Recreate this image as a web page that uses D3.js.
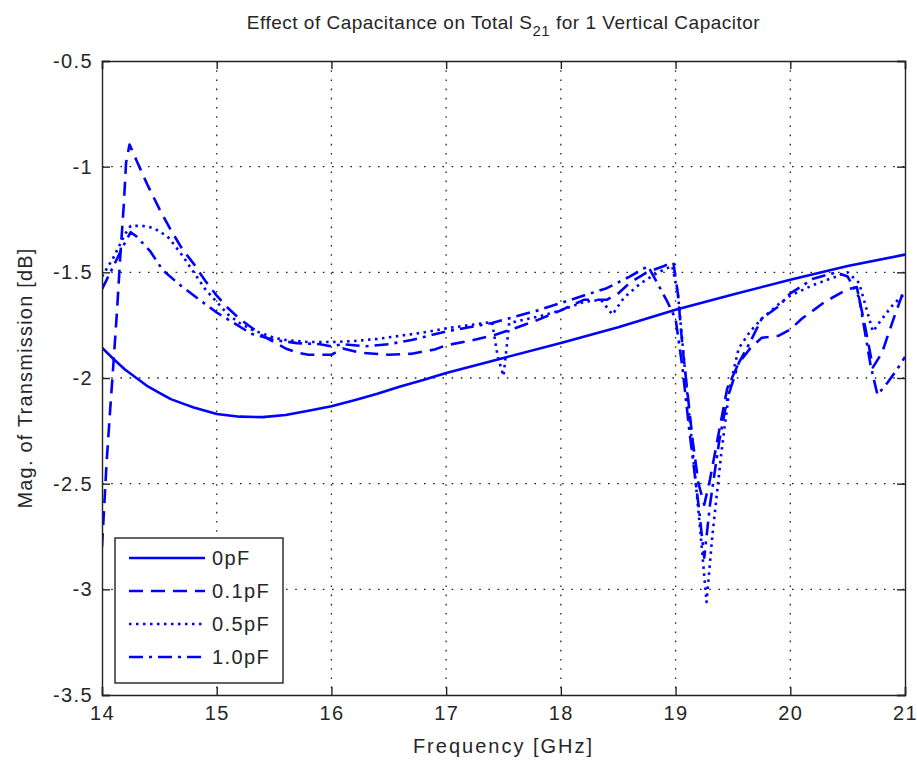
<!DOCTYPE html>
<html>
<head>
<meta charset="utf-8">
<script src="https://cdn.jsdelivr.net/npm/d3@7"></script>
<style>
  html, body { margin: 0; padding: 0; background: #fff; }
  svg { display: block; }
  text { font-family: "Liberation Sans", Arial, sans-serif; fill: #262626; }
</style>
</head>
<body>
<script>
// Tick values
const xTicks = [14, 15, 16, 17, 18, 19, 20, 21];
const yTicks = [-0.5, -1, -1.5, -2, -2.5, -3, -3.5];

// 0 pF (no capacitor)
const freq0 = [14.0, 14.1, 14.2, 14.3, 14.4, 14.5, 14.6, 14.7, 14.8, 14.9, 15.0, 15.2, 15.4, 15.6, 15.8, 16.0, 16.2, 16.4, 16.6, 16.8, 17.0, 17.5, 18.0, 18.5, 19.0, 19.5, 20.0, 20.5, 21.0];
const mag0 = [-1.857, -1.91, -1.96, -2.0, -2.04, -2.07, -2.10, -2.12, -2.14, -2.155, -2.17, -2.183, -2.185, -2.175, -2.155, -2.134, -2.105, -2.075, -2.04, -2.01, -1.976, -1.905, -1.834, -1.76, -1.677, -1.605, -1.535, -1.47, -1.416];

// 0.1 pF
const freq01 = [14.0, 14.04, 14.07, 14.10, 14.13, 14.16, 14.19, 14.21, 14.24, 14.3, 14.4, 14.5, 14.6, 14.7, 14.8, 14.9, 15.0, 15.1, 15.2, 15.3, 15.4, 15.5, 15.6, 15.7, 15.8, 16.0, 16.1, 16.25, 16.5, 16.7, 16.9, 17.0, 17.2, 17.4, 17.6, 17.8, 18.0, 18.2, 18.4, 18.5, 18.6, 18.75, 18.9, 18.98, 19.02, 19.06, 19.1, 19.15, 19.2, 19.25, 19.3, 19.38, 19.45, 19.55, 19.65, 19.75, 19.9, 20.0, 20.1, 20.3, 20.5, 20.58, 20.65, 20.72, 20.8, 20.9, 21.0];
const mag01 = [-2.80, -2.40, -2.16, -1.93, -1.69, -1.42, -1.18, -0.98, -0.895, -0.97, -1.09, -1.20, -1.30, -1.39, -1.46, -1.54, -1.61, -1.67, -1.72, -1.76, -1.80, -1.83, -1.86, -1.88, -1.89, -1.89, -1.86, -1.88, -1.89, -1.885, -1.865, -1.845, -1.825, -1.80, -1.765, -1.725, -1.68, -1.63, -1.63, -1.60, -1.55, -1.50, -1.47, -1.45, -1.60, -1.85, -2.05, -2.30, -2.50, -2.60, -2.48, -2.25, -2.05, -1.93, -1.86, -1.81, -1.80, -1.77, -1.72, -1.64, -1.58, -1.57, -1.75, -1.95, -1.88, -1.72, -1.57];

// 0.5 pF
const freq05 = [14.0, 14.1, 14.2, 14.25, 14.35, 14.45, 14.57, 14.63, 14.7, 14.8, 14.9, 15.0, 15.1, 15.2, 15.3, 15.4, 15.5, 15.6, 15.8, 16.0, 16.2, 16.4, 16.6, 16.8, 17.0, 17.2, 17.4, 17.45, 17.5, 17.55, 17.8, 18.0, 18.2, 18.35, 18.45, 18.55, 18.7, 18.85, 18.97, 19.02, 19.08, 19.15, 19.22, 19.27, 19.32, 19.4, 19.47, 19.55, 19.65, 19.75, 19.9, 20.0, 20.2, 20.4, 20.5, 20.6, 20.72, 20.8, 20.9, 21.0];
const mag05 = [-1.52, -1.43, -1.32, -1.28, -1.28, -1.29, -1.33, -1.37, -1.42, -1.50, -1.58, -1.64, -1.70, -1.74, -1.77, -1.79, -1.81, -1.82, -1.83, -1.83, -1.825, -1.815, -1.80, -1.785, -1.765, -1.75, -1.735, -1.90, -1.99, -1.74, -1.71, -1.68, -1.64, -1.63, -1.70, -1.62, -1.55, -1.50, -1.47, -1.60, -1.95, -2.35, -2.75, -3.06, -2.75, -2.35, -2.05, -1.86, -1.78, -1.72, -1.65, -1.61, -1.56, -1.52, -1.50, -1.55, -1.78, -1.72, -1.65, -1.60];

// 1.0 pF
const freq10 = [14.0, 14.1, 14.2, 14.25, 14.3, 14.42, 14.53, 14.68, 14.85, 15.0, 15.15, 15.3, 15.5, 15.7, 15.9, 16.0, 16.1, 16.3, 16.5, 16.7, 17.0, 17.2, 17.4, 17.6, 17.8, 18.0, 18.2, 18.4, 18.6, 18.76, 18.85, 18.92, 19.0, 19.06, 19.12, 19.2, 19.25, 19.3, 19.38, 19.45, 19.55, 19.65, 19.75, 19.9, 20.0, 20.2, 20.4, 20.5, 20.6, 20.7, 20.76, 20.85, 20.93, 21.0];
const mag10 = [-1.58, -1.47, -1.36, -1.31, -1.33, -1.40, -1.49, -1.56, -1.63, -1.69, -1.74, -1.79, -1.82, -1.835, -1.84, -1.85, -1.84, -1.85, -1.84, -1.82, -1.78, -1.76, -1.74, -1.71, -1.68, -1.645, -1.61, -1.575, -1.52, -1.47, -1.56, -1.63, -1.72, -1.95, -2.25, -2.60, -2.85, -2.60, -2.30, -2.10, -1.93, -1.83, -1.72, -1.66, -1.60, -1.53, -1.50, -1.52, -1.62, -1.94, -2.08, -2.02, -1.96, -1.90];

const seriesNames = ["0pF", "0.1pF", "0.5pF", "1.0pF"];
const seriesFreq = [freq0, freq01, freq05, freq10];
const seriesMag = [mag0, mag01, mag05, mag10];
const dashes = [null, "14,8", "2.5,4.5", "14,6,3,6"];

const W = 917, H = 763;
const margin = { top: 61, right: 12, bottom: 68, left: 102 };
const iw = W - margin.left - margin.right;
const ih = H - margin.top - margin.bottom;

const svg = d3.select("body").append("svg").attr("width", W).attr("height", H);
const g = svg.append("g").attr("transform", `translate(${margin.left},${margin.top})`);

const x = d3.scaleLinear().domain([14, 21]).range([0, iw]);
const y = d3.scaleLinear().domain([-3.5, -0.5]).range([ih, 0]);

// Dotted grid
const grid = g.append("g").attr("stroke", "#222").attr("stroke-width", 1.3).attr("stroke-dasharray", "1.6,7.6");
grid.selectAll(".gx").data(xTicks.slice(1, -1)).join("line")
  .attr("x1", d => x(d)).attr("x2", d => x(d)).attr("y1", 0).attr("y2", ih);
grid.selectAll(".gy").data(yTicks.slice(1, -1)).join("line")
  .attr("y1", d => y(d)).attr("y2", d => y(d)).attr("x1", 0).attr("x2", iw);

// Series lines
const line = d3.line().x(d => x(d[0])).y(d => y(d[1]));
svg.append("defs").append("clipPath").attr("id", "plotclip")
  .append("rect").attr("width", iw).attr("height", ih);
const lines = g.append("g").attr("clip-path", "url(#plotclip)");
seriesNames.forEach((name, i) => {
  const pts = seriesFreq[i].map((f, k) => [f, seriesMag[i][k]]);
  lines.append("path").datum(pts)
    .attr("fill", "none").attr("stroke", "#0000ff").attr("stroke-width", 2.6)
    .attr("stroke-linejoin", "round")
    .attr("stroke-dasharray", dashes[i])
    .attr("d", line);
});

// Axes with inward ticks on all four sides
const axB = g.append("g").attr("transform", `translate(0,${ih})`)
  .call(d3.axisBottom(x).tickValues(xTicks).tickSize(-8).tickPadding(11).tickFormat(d3.format("d")));
const axT = g.append("g")
  .call(d3.axisTop(x).tickValues(xTicks).tickSize(-8).tickFormat(""));
const axL = g.append("g")
  .call(d3.axisLeft(y).tickValues(yTicks).tickSize(-8).tickPadding(9).tickFormat(d => String(d)));
const axR = g.append("g").attr("transform", `translate(${iw},0)`)
  .call(d3.axisRight(y).tickValues(yTicks).tickSize(-8).tickFormat(""));
[axB, axT, axL, axR].forEach(a => {
  a.select(".domain").attr("stroke", "#222").attr("stroke-width", 1.4);
  a.selectAll(".tick line").attr("stroke", "#222").attr("stroke-width", 1.4);
  a.selectAll("text").attr("font-size", 20).attr("fill", "#262626")
    .style("letter-spacing", "1.4px")
    .style("font-family", '"Liberation Sans", Arial, sans-serif');
});

// Title with subscript
const title = svg.append("text").attr("x", margin.left + iw / 2).attr("y", 29)
  .attr("text-anchor", "middle").attr("font-size", 19).style("letter-spacing", "0.5px");
title.append("tspan").text("Effect of Capacitance on Total S");
title.append("tspan").attr("dy", 7).attr("font-size", 15).text("21");
title.append("tspan").attr("dy", -7).text(" for 1 Vertical Capacitor");

// Axis labels
svg.append("text").attr("x", margin.left + iw / 2).attr("y", 753)
  .attr("text-anchor", "middle").attr("font-size", 20).style("letter-spacing", "2px")
  .text("Frequency [GHz]");
svg.append("text").attr("transform", `translate(32,${margin.top + ih / 2}) rotate(-90)`)
  .attr("text-anchor", "middle").attr("font-size", 20).style("letter-spacing", "1.2px")
  .text("Mag. of Transmission [dB]");

// Legend
const lg = svg.append("g").attr("transform", "translate(115,538)");
lg.append("rect").attr("width", 168).attr("height", 145)
  .attr("fill", "#fff").attr("stroke", "#222").attr("stroke-width", 1.4);
seriesNames.forEach((name, i) => {
  const yy = 20 + i * 33;
  lg.append("line").attr("x1", 14).attr("x2", 90).attr("y1", yy).attr("y2", yy)
    .attr("stroke", "#0000ff").attr("stroke-width", 2.6)
    .attr("stroke-dasharray", dashes[i]);
  lg.append("text").attr("x", 97).attr("y", yy + 7).attr("font-size", 20)
    .style("letter-spacing", "1.4px").text(name);
});
</script>
</body>
</html>
